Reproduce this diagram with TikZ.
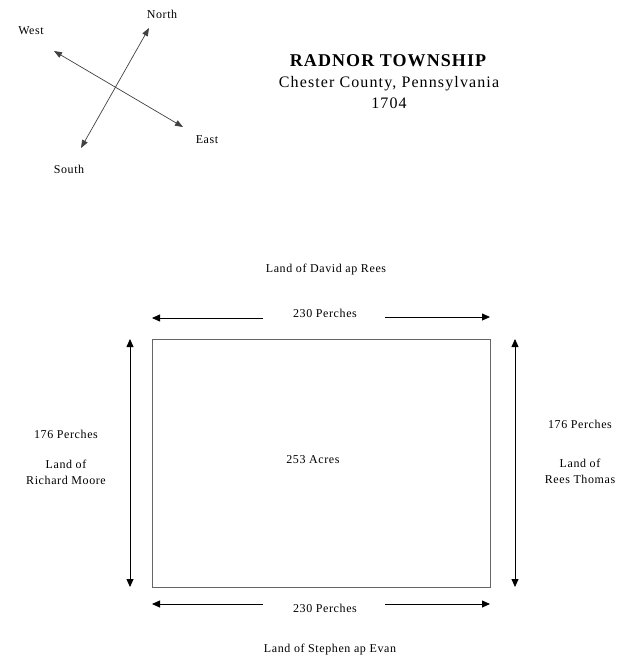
\documentclass[tikz,border=0pt]{standalone}
\usepackage{fontspec}
\setmainfont{Liberation Serif}
\usetikzlibrary{arrows.meta}
\tikzset{
  lbl/.style={inner sep=0pt, font=\fontsize{12}{16}\selectfont\addfontfeatures{LetterSpace=5}, align=center},
  ttl/.style={inner sep=0pt, font=\fontsize{18}{20}\selectfont\bfseries\addfontfeatures{LetterSpace=6}},
  sub/.style={inner sep=0pt, font=\fontsize{16}{18}\selectfont\addfontfeatures{LetterSpace=7}},
  dim/.style={draw=black, line width=0.8pt, -{Triangle[length=8pt,width=7pt]}},
  dimtwo/.style={draw=black, line width=0.8pt, {Triangle[length=8pt,width=7pt]}-{Triangle[length=8pt,width=7pt]}},
  cmp/.style={draw=black!75, line width=0.7pt, {Triangle[length=8pt,width=6pt]}-{Triangle[length=8pt,width=6pt]}},
  lot/.style={draw=black!60, line width=1pt}
}
\begin{document}
\begin{tikzpicture}[x=1pt,y=-1pt]
\useasboundingbox (0,0) rectangle (636,664);
% compass
\coordinate (N) at (149,28);
\coordinate (S) at (81,148);
\coordinate (W) at (54,51);
\coordinate (E) at (183,127);
\draw[cmp] (S) -- (N);
\draw[cmp] (W) -- (E);
\node[lbl] (ln) at (162,14) {North};
\node[lbl] (lw) at (31,31) {West};
\node[lbl] (le) at (207,140) {East};
\node[lbl] (ls) at (69,169) {South};
% title
\node[ttl] (t1) at (388,61) {RADNOR TOWNSHIP};
\node[sub] (t2) at (389,84) {Chester County, Pennsylvania};
\node[sub] (t3) at (389,103) {1704};
% plot
\node[lbl] (north) at (326,270) {Land of David ap Rees};
\node[lbl] (south) at (330,650) {Land of Stephen ap Evan};
\node[lbl] (area) at (313,460) {253 Acres};
\node[lbl] (west) at (66,472) {Land of\\Richard Moore};
\node[lbl] (wlen) at (66,434) {176 Perches};
\node[lbl] (east) at (580,471) {Land of\\Rees Thomas};
\node[lbl] (elen) at (580,424) {176 Perches};
\node[lbl] (tlen) at (325,313) {230 Perches};
\node[lbl] (blen) at (325,608) {230 Perches};
\draw[lot] (152,339) rectangle (490,587);
% top dims
\coordinate (tl0) at (263,318); \coordinate (tl1) at (152,318);
\coordinate (tr0) at (385,317); \coordinate (tr1) at (490,317);
\draw[dim] (tl0) -- (tl1);
\draw[dim] (tr0) -- (tr1);
% bottom dims
\coordinate (bl0) at (263,604); \coordinate (bl1) at (152,604);
\coordinate (br0) at (385,604); \coordinate (br1) at (490,604);
\draw[dim] (bl0) -- (bl1);
\draw[dim] (br0) -- (br1);
% side dims
\coordinate (lv0) at (130,339); \coordinate (lv1) at (130,587);
\coordinate (rv0) at (515,339); \coordinate (rv1) at (515,587);
\draw[dimtwo] (lv0) -- (lv1);
\draw[dimtwo] (rv0) -- (rv1);
\end{tikzpicture}
\end{document}
